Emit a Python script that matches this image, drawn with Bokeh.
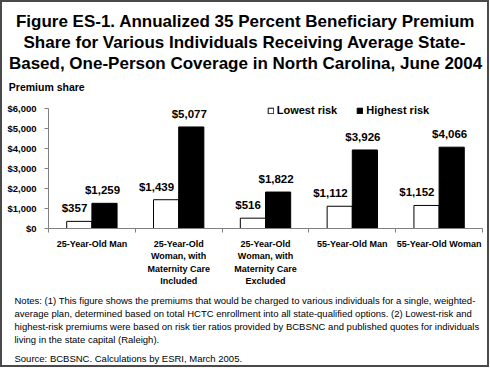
from bokeh.plotting import figure
from bokeh.models import (Range1d, LinearAxis, FixedTicker, Title,
                          NumeralTickFormatter, LabelSet, Legend, LegendItem,
                          ColumnDataSource)
from bokeh.transform import dodge
from bokeh.core.properties import value
from bokeh.embed import file_html
from bokeh.resources import INLINE

# ---------------- data ----------------
categories = [
    "25-Year-Old Man",
    "25-Year-Old\nWoman, with\nMaternity Care\nIncluded",
    "25-Year-Old\nWoman, with\nMaternity Care\nExcluded",
    "55-Year-Old Man",
    "55-Year-Old Woman",
]
lowest_risk = [357, 1439, 516, 1112, 1152]
highest_risk = [1259, 5077, 1822, 3926, 4066]
series_names = ["Lowest risk", "Highest risk"]
y_ticks = [0, 1000, 2000, 3000, 4000, 5000, 6000]
title_lines = [
    "Figure ES-1. Annualized 35 Percent Beneficiary Premium",
    "Share for Various Individuals Receiving Average State-",
    "Based, One-Person Coverage in North Carolina, June 2004",
]
y_title = "Premium share"
notes_lines = [
    "Notes: (1) This figure shows the premiums that would be charged to various individuals for a single, weighted-",
    "average plan, determined based on total HCTC enrollment into all state-qualified options. (2) Lowest-risk and",
    "highest-risk premiums were based on risk tier ratios provided by BCBSNC and published quotes for individuals",
    "living in the state capital (Raleigh).",
]
source_line = "Source: BCBSNC. Calculations by ESRI, March 2005."

# ---------------- layout (canvas px) ----------------
W, H = 489, 367
FL, FR, FT, FB = 46, 480, 97, 226      # frame (includes legend strip on top)
AXIS_TOP = 106                         # where $6,000 sits
FONT = "Liberation Sans"
N = len(categories)
YMAX = y_ticks[-1] * (FB - FT) / (FB - AXIS_TOP)

centers = [i + 0.5 for i in range(N)]
src = ColumnDataSource(dict(
    xc=centers,
    low=lowest_risk,
    high=highest_risk,
    low_lbl=["${:,}".format(v) for v in lowest_risk],
    high_lbl=["${:,}".format(v) for v in highest_risk],
))

p = figure(width=W, height=H, output_backend="svg", toolbar_location=None,
           x_range=Range1d(0, N), y_range=Range1d(0, YMAX), x_axis_type=None,
           min_border_left=FL, min_border_right=W - FR, min_border_top=FT,
           min_border_bottom=H - FB,
           styles={"border": "2px solid #4a4a4a"})
p.outline_line_color = None
p.background_fill_color = "white"
p.border_fill_color = "white"
p.ygrid.visible = False

yax = p.yaxis[0]
yax.ticker = FixedTicker(ticks=y_ticks)
yax.bounds = (y_ticks[0], y_ticks[-1])
yax.formatter = NumeralTickFormatter(format="$0,0")
yax.major_label_text_font = FONT
yax.major_label_text_font_style = "bold"
yax.major_label_text_font_size = "9.5px"
yax.major_label_text_color = "black"
yax.axis_line_color = "#808080"
yax.major_tick_line_color = "#808080"
yax.major_tick_out = 4
yax.major_tick_in = 0
yax.minor_tick_line_color = None
yax.major_label_standoff = 8

# x axis: boundary ticks, then category labels
tick_ax = LinearAxis(ticker=FixedTicker(ticks=list(range(N + 1))),
                     major_label_text_font_size="0px", major_label_standoff=0,
                     major_tick_out=4, major_tick_in=0, minor_tick_line_color=None,
                     axis_line_color="#808080", major_tick_line_color="#808080")
p.add_layout(tick_ax, "below")
cat_ax = LinearAxis(ticker=FixedTicker(ticks=centers),
                    major_label_overrides={c: lab for c, lab in zip(centers, categories)},
                    axis_line_color=None, major_tick_line_color=None,
                    minor_tick_line_color=None, major_label_standoff=0,
                    major_label_text_font=FONT, major_label_text_font_style="bold",
                    major_label_text_font_size="9px", major_label_text_color="black",
                    major_label_text_line_height=1.25)
p.add_layout(cat_ax, "below")

# bars
bw = 0.29
r_low = p.vbar(x=dodge("xc", -bw / 2), top="low", width=bw, source=src,
               fill_color="white", line_color="black", line_width=1)
r_high = p.vbar(x=dodge("xc", bw / 2), top="high", width=bw, source=src,
                fill_color="black", line_color="black", line_width=1)

p.add_layout(LabelSet(x=dodge("xc", -bw / 2), y="low", text="low_lbl",
                      source=src, text_align="right", text_baseline="alphabetic",
                      x_offset=8, y_offset=9, text_font=value(FONT),
                      text_font_style="bold", text_font_size="11.5px", text_color="black"))
p.add_layout(LabelSet(x=dodge("xc", bw / 2), y="high", text="high_lbl",
                      source=src, text_align="center", text_baseline="alphabetic",
                      x_offset=-2, y_offset=9, text_font=value(FONT),
                      text_font_style="bold", text_font_size="11.5px", text_color="black"))

# legend inside the top strip of the frame
legend = Legend(items=[LegendItem(label=series_names[0], renderers=[r_low]),
                       LegendItem(label=series_names[1], renderers=[r_high])],
                orientation="horizontal", location=(264.7 - FL, FB - 114),
                glyph_width=7, glyph_height=7, label_standoff=3, spacing=19,
                padding=0, margin=0, border_line_color=None,
                background_fill_alpha=0, label_height=12,
                label_text_font=FONT, label_text_font_style="bold",
                label_text_font_size="11px", label_text_color="black")
p.add_layout(legend)

# titles above (first added = closest to the frame)
p.add_layout(Title(text=y_title, align="left", offset=6.3 - FL, standoff=13,
                   text_font=FONT, text_font_style="bold", text_font_size="10.5px",
                   text_color="black"), "above")
title_left = [13.4, 21.0, 6.4]
for i in [2, 1, 0]:
    p.add_layout(Title(text=title_lines[i], align="left", offset=title_left[i] - FL,
                       standoff=0, text_font=FONT, text_font_style="bold",
                       text_font_size="17px", text_color="black"), "above")

# notes block and source below the axes
p.add_layout(Title(text="\n".join(notes_lines), align="left", offset=12 - FL, standoff=8,
                   text_font=FONT, text_font_style="normal", text_font_size="9.5px",
                   text_line_height=1.185, text_color="black"), "below")
p.add_layout(Title(text=source_line, align="left", offset=12 - FL, standoff=2,
                   text_font=FONT, text_font_style="normal", text_font_size="9.5px",
                   text_color="black"), "below")

open("out.html", "w").write(file_html(p, INLINE))
